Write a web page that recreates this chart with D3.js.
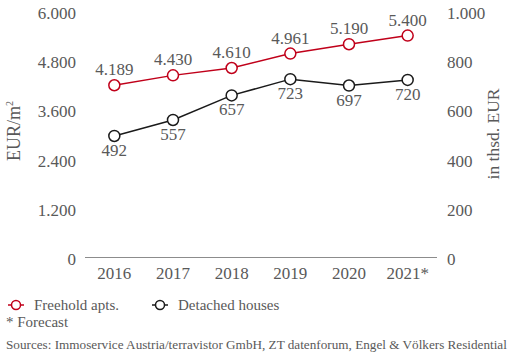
<!DOCTYPE html>
<html><head><meta charset="utf-8">
<script src="https://cdn.jsdelivr.net/npm/d3@7"></script>
<style>
body{margin:0;background:#fff;}
text{font-family:"Liberation Serif","Times New Roman",serif;fill:#595959;}
</style></head>
<body><svg id="c" width="513" height="356"></svg>
<script>
const years = ["2016","2017","2018","2019","2020","2021*"];
const freehold = [4189,4430,4610,4961,5190,5400];
const detached = [492,557,657,723,697,720];
const leftTicks = [0,1200,2400,3600,4800,6000];
const rightTicks = [0,200,400,600,800,1000];
const seriesNames = ["Freehold apts.","Detached houses"];
const colors = ["#c0001a","#1a1a1a"];

const svg = d3.select("#c");
const x = d3.scaleBand().domain(years).range([85,437]);
const yL = d3.scaleLinear().domain([0,6000]).range([257,11]);
const yR = d3.scaleLinear().domain([0,1000]).range([257,11]);
const fmt = d => d3.format(",")(d).replace(/,/g,".");
const FS = 17;

// axis line
svg.append("line").attr("x1",85).attr("x2",437).attr("y1",257.5).attr("y2",257.5)
  .attr("stroke","#8c8c8c").attr("stroke-width",1);

// left ticks
svg.append("g").selectAll("text").data(leftTicks).join("text")
  .attr("x",76).attr("y",d=>yL(d)+8).attr("text-anchor","end")
  .attr("font-size",FS).text(fmt);
// right ticks
svg.append("g").selectAll("text").data(rightTicks).join("text")
  .attr("x",447).attr("y",d=>yR(d)+8).attr("text-anchor","start")
  .attr("font-size",FS).text(fmt);
// x labels
svg.append("g").selectAll("text").data(years).join("text")
  .attr("x",d=>x(d)+x.bandwidth()/2).attr("y",279).attr("text-anchor","middle")
  .attr("font-size",FS).text(d=>d);

// axis titles
const lt = svg.append("text").attr("transform","translate(20,131) rotate(-90)")
  .attr("text-anchor","middle").attr("font-size",18);
lt.append("tspan").text("EUR/m");
lt.append("tspan").attr("font-size",10).attr("dy",-7).text("2");
svg.append("text").attr("transform","translate(499,134) rotate(-90)")
  .attr("text-anchor","middle").attr("font-size",17.5).text("in thsd. EUR");

const cx = d => x(d)+x.bandwidth()/2;
function drawSeries(vals, y, color, above){
  const pts = vals.map((v,i)=>[cx(years[i]), y(v), v]);
  svg.append("path").attr("d", d3.line()(pts.map(p=>[p[0],p[1]])))
    .attr("fill","none").attr("stroke",color).attr("stroke-width",1.5);
  svg.append("g").selectAll("circle").data(pts).join("circle")
    .attr("cx",p=>p[0]).attr("cy",p=>p[1]).attr("r",5.5)
    .attr("fill","#fff").attr("stroke",color).attr("stroke-width",1.5);
  svg.append("g").selectAll("text").data(pts).join("text")
    .attr("x",p=>p[0]).attr("y",p=> above ? p[1]-10 : p[1]+20)
    .attr("text-anchor","middle").attr("font-size",FS).text(p=>fmt(p[2]));
}
drawSeries(freehold, yL, colors[0], true);
drawSeries(detached, yR, colors[1], false);

// legend
const legX = [8,152];
seriesNames.forEach((n,i)=>{
  const g = svg.append("g").attr("transform",`translate(${legX[i]},305)`);
  g.append("line").attr("x1",0).attr("x2",16).attr("stroke",colors[i]).attr("stroke-width",1.5);
  g.append("circle").attr("cx",8).attr("r",4.5).attr("fill","#fff").attr("stroke",colors[i]).attr("stroke-width",1.5);
  g.append("text").attr("x",26).attr("y",5).attr("font-size",15).text(n);
});
svg.append("text").attr("x",6).attr("y",327).attr("font-size",15).text("* Forecast");
svg.append("text").attr("x",6).attr("y",349).attr("font-size",13.2)
  .text("Sources: Immoservice Austria/terravistor GmbH, ZT datenforum, Engel & Völkers Residential");
</script></body></html>
